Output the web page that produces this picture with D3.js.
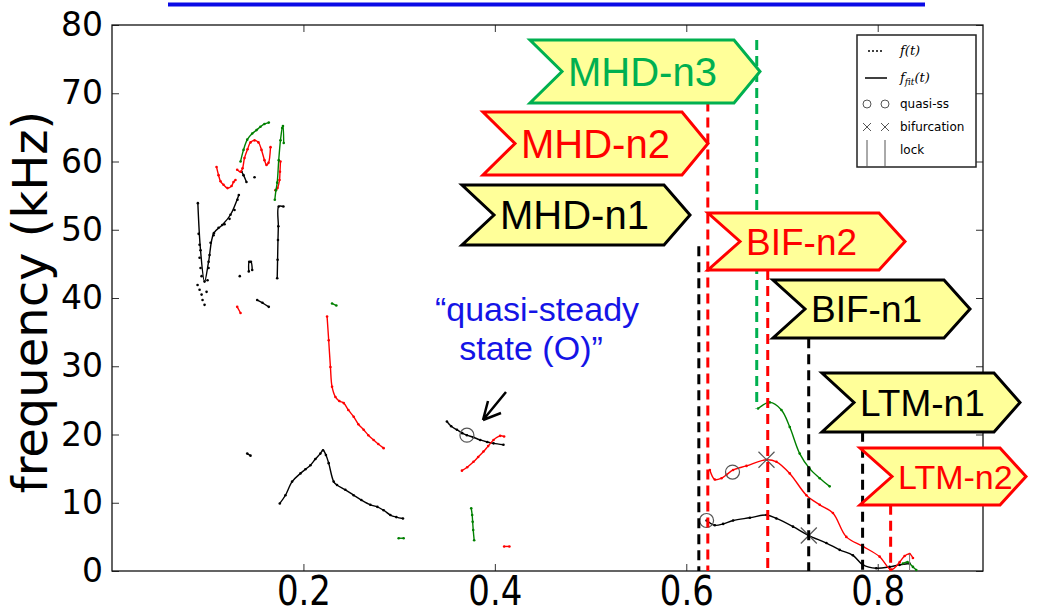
<!DOCTYPE html>
<html>
<head>
<meta charset="utf-8">
<script src="https://cdn.jsdelivr.net/npm/d3@7/dist/d3.min.js"></script>
<style>
  body { margin: 0; background: #fff; }
  svg { display: block; }
</style>
</head>
<body>
<div id="chart"></div>
<script>
// ---- data (t in s, f in kHz) ----
var xTicks = [0.2, 0.4, 0.6, 0.8];
var yTicks = [0, 10, 20, 30, 40, 50, 60, 70, 80];

// black (n=1) pieces
var blackV = [[0.0897,53.9],[0.0925,47.0],[0.0967,42.4],[0.1009,45.3],[0.1064,49.5],[0.1152,50.7],[0.1238,52.2],[0.1325,55.1]];
var blackVDots = [[0.0905,49.4],[0.0915,47.8],[0.0915,45.9],[0.0925,44.4],[0.0936,43.2],[0.0894,41.9],[0.0915,41.2],[0.0936,40.5],[0.0946,39.7],[0.0967,39.0],[0.0988,40.9],[0.0998,42.6],[0.1009,44.4],[0.1019,46.3],[0.1030,48.1],[0.1061,49.2],[0.1113,50.3],[0.1176,50.8],[0.1228,51.6],[0.1280,52.9],[0.1311,54.4]];
var blackTop = [[0.1353,58.5],[0.1374,58.0],[0.1405,57.0]];
var blackBits = [[0.1489,57.7],[0.1335,43.2]];
var blackHook = [[0.1429,43.9],[0.1434,45.3],[0.1452,45.3],[0.1465,44.1]];
var blackLow = [[0.1517,39.7],[0.1572,39.3],[0.1638,38.7]];
var blackVert = [[0.1791,53.4],[0.1742,53.4],[0.1738,50.5],[0.1734,48.5],[0.1730,45.6],[0.1726,42.9]];
var blackSmall = [[0.1413,17.2],[0.1447,16.9]];
var blackMid = [[0.1753,9.9],[0.1812,11.1],[0.1882,13.1],[0.1969,14.3],[0.2021,14.9],[0.2073,15.5],[0.2125,16.4],[0.2177,17.2],[0.2205,17.7],[0.2235,17.0],[0.2264,15.8],[0.2316,13.1],[0.2351,12.6],[0.2438,11.9],[0.2525,11.1],[0.2605,10.4],[0.2699,9.7],[0.2772,9.4],[0.2838,8.9],[0.2908,8.2],[0.2970,7.9],[0.3040,7.7]];
var blackQuasi = [[0.3499,21.9],[0.3544,21.2],[0.3604,20.7],[0.3659,20.2],[0.3708,19.9],[0.3774,19.6],[0.3847,19.2],[0.3920,18.9],[0.3986,18.7],[0.4090,18.5]];
var blackLate = [[0.6212,7.4],[0.6298,6.7],[0.6385,6.9],[0.6489,7.4],[0.6664,7.8],[0.6838,8.2],[0.6942,7.7],[0.7115,6.5],[0.7280,5.2],[0.7464,4.1],[0.7602,3.1],[0.7741,2.3],[0.7846,0.9],[0.7985,0.4],[0.8124,0.6],[0.8229,0.9],[0.8333,1.1]];

// red (n=2) pieces
var redLeft = [[0.1092,59.2],[0.1113,58.0],[0.1134,57.1],[0.1165,56.6],[0.1207,56.1],[0.1249,56.4],[0.1270,57.0],[0.1290,57.3]];
var redHump = [[0.1308,58.8],[0.1343,58.5],[0.1364,59.0],[0.1384,60.5],[0.1416,61.8],[0.1447,62.8],[0.1489,63.1],[0.1530,62.8],[0.1562,61.7],[0.1593,60.2],[0.1614,59.5],[0.1635,59.8],[0.1656,62.1]];
var redRight = [[0.1760,60.0],[0.1755,58.5],[0.1750,57.3],[0.1729,56.1],[0.1708,55.8]];
var redLow = [[0.1308,38.7],[0.1343,37.8]];
var redFall = [[0.2247,37.3],[0.2264,33.8],[0.2282,29.9],[0.2299,27.0],[0.2334,25.5],[0.2375,24.9],[0.2421,24.6],[0.2469,23.6],[0.2525,22.6],[0.2574,21.5],[0.2629,20.7],[0.2678,19.9],[0.2733,19.2],[0.2782,18.6],[0.2838,18.0]];
var redQuasi = [[0.3656,14.7],[0.3711,15.2],[0.3777,16.0],[0.3826,16.7],[0.3881,17.5],[0.3930,18.3],[0.3986,19.2],[0.4055,19.8],[0.4097,19.7]];
var redSmall = [[0.4097,3.6],[0.4152,3.6]];
var redLate = [[0.6246,14.8],[0.6298,13.4],[0.6368,13.6],[0.6420,14.1],[0.6489,14.8],[0.6629,15.4],[0.6838,16.3],[0.6942,16.0],[0.7081,14.3],[0.7255,11.1],[0.7394,9.7],[0.7532,8.5],[0.7672,5.0],[0.7846,3.6],[0.8020,2.1],[0.8142,0.2],[0.8229,1.3],[0.8281,2.2],[0.8333,2.5],[0.8368,1.9]];

// green (n=3) pieces
var greenLeft = [[0.1343,60.0],[0.1374,61.7],[0.1413,63.2],[0.1465,64.1],[0.1510,64.6],[0.1551,65.1],[0.1593,65.5],[0.1638,65.7]];
var greenSpike = [[0.1701,54.4],[0.1713,55.8],[0.1726,56.9],[0.1742,60.2],[0.1760,63.1],[0.1778,64.9],[0.1786,65.2],[0.1794,62.7]];
var greenSmallA = [[0.2299,39.2],[0.2344,38.9]];
var greenSmallB = [[0.2995,4.8],[0.3047,4.8]];
var greenVert = [[0.3753,9.2],[0.3763,8.2],[0.3768,7.2],[0.3774,6.0],[0.3784,4.5]];
var greenLate = [[0.6750,23.8],[0.6872,24.7],[0.6994,23.6],[0.7081,21.1],[0.7185,17.2],[0.7289,15.0],[0.7394,13.6],[0.7498,12.4]];
var greenTail = [[0.8263,1.1],[0.8312,1.3],[0.8368,0.6],[0.8403,0.15]];

// markers
var quasiSS = [[0.3708,19.9],[0.6212,7.4],[0.6483,14.5]];
var bifurcation = [[0.6838,16.3],[0.7280,5.2]];

// event times, and the f range each dashed line covers
var eventNames = ["MHD-n3", "MHD-n2", "MHD-n1", "BIF-n2", "BIF-n1", "LTM-n1", "LTM-n2"];
var eventTimes = [0.6736, 0.6225, 0.6131, 0.6851, 0.7279, 0.7842, 0.8135];
var eventTops = [77.8, 68.8, 47.6, 44.1, 34.1, 20.4, 9.7];
var eventBottoms = [23.8, 0, 0, 0, 0, 0, 0];

// ---- layout ----
var svgWidth = 1046, svgHeight = 615;
var margin = {top: 25, right: 63, bottom: 44, left: 112};
var colors = {k: "#000000", r: "#ff0000", g: "#008000"};
var eventColors = ["#00b050", "#ff0000", "#000000", "#ff0000", "#000000", "#000000", "#ff0000"];
// label boxes: left, tip, top, bottom, font size (px)
var boxes = [
  [530, 760, 40, 103, 40],
  [483, 708, 112, 175, 40],
  [462, 690, 185, 245, 40],
  [708, 905, 213, 270, 37],
  [773, 970, 280, 338, 37],
  [822, 1020, 373, 432, 37],
  [860, 1026, 448, 505, 34]
];

var svg = d3.select("#chart").append("svg")
  .attr("width", svgWidth)
  .attr("height", svgHeight);

var x = d3.scaleLinear().domain([0, 0.91]).range([margin.left, svgWidth - margin.right]);
var y = d3.scaleLinear().domain([0, 80]).range([svgHeight - margin.bottom, margin.top]);

// blue bar across the top
svg.append("line")
  .attr("x1", 168).attr("x2", 925).attr("y1", 4.5).attr("y2", 4.5)
  .attr("stroke", "#0a0ae6").attr("stroke-width", 4);

// axes, ticks pointing inward like matplotlib classic
var tickCol = "#333";
var gL = svg.append("g").attr("transform", `translate(${margin.left},0)`)
  .call(d3.axisLeft(y).tickValues(yTicks).tickSize(-7).tickPadding(9));
var gR = svg.append("g").attr("transform", `translate(${svgWidth - margin.right},0)`)
  .call(d3.axisRight(y).tickValues(yTicks).tickSize(-7).tickFormat(""));
var gB = svg.append("g").attr("transform", `translate(0,${svgHeight - margin.bottom})`)
  .call(d3.axisBottom(x).tickValues(xTicks).tickSize(-7).tickFormat(d3.format(".1f")));
var gT = svg.append("g").attr("transform", `translate(0,${margin.top})`)
  .call(d3.axisTop(x).tickValues(xTicks).tickSize(-7).tickFormat(""));
[gL, gR, gB, gT].forEach(function(g) {
  g.select(".domain").remove();
  g.selectAll(".tick line").attr("stroke", tickCol);
});
gL.selectAll("text")
  .attr("font-family", "DejaVu Sans").attr("font-size", 33).attr("fill", "#000");
// the x labels in the picture are drawn tall and narrow
gB.selectAll("text")
  .attr("font-family", "DejaVu Sans").attr("font-size", 34).attr("fill", "#000")
  .attr("dy", 0).attr("y", 28.3)
  .attr("transform", "scale(1,1.2)");

svg.append("rect")
  .attr("x", margin.left).attr("y", margin.top)
  .attr("width", svgWidth - margin.left - margin.right)
  .attr("height", svgHeight - margin.top - margin.bottom)
  .attr("fill", "none").attr("stroke", "#111").attr("stroke-width", 1.3);

svg.append("text")
  .attr("transform", "translate(47,302) rotate(-90)")
  .attr("text-anchor", "middle")
  .attr("font-family", "DejaVu Sans").attr("font-size", 48)
  .text("frequency (kHz)");

// data pieces: fitted line plus the sampled points
var line = d3.line().x(d => x(d[0])).y(d => y(d[1])).curve(d3.curveCatmullRom);
var pieces = [
  [blackV, "k"], [blackTop, "k"], [blackHook, "k"], [blackLow, "k"], [blackVert, "k"],
  [blackSmall, "k"], [blackMid, "k"], [blackQuasi, "k"], [blackLate, "k"],
  [redLeft, "r"], [redHump, "r"], [redRight, "r"], [redLow, "r"], [redFall, "r"],
  [redQuasi, "r"], [redSmall, "r"], [redLate, "r"],
  [greenLeft, "g"], [greenSpike, "g"], [greenSmallA, "g"], [greenSmallB, "g"],
  [greenVert, "g"], [greenLate, "g"], [greenTail, "g"]
];
var dataG = svg.append("g");
pieces.forEach(function(p) {
  dataG.append("path").datum(p[0])
    .attr("d", line)
    .attr("fill", "none")
    .attr("stroke", colors[p[1]])
    .attr("stroke-width", 1.4);
  dataG.selectAll(null).data(p[0]).enter().append("circle")
    .attr("cx", d => x(d[0])).attr("cy", d => y(d[1]))
    .attr("r", 1.3).attr("fill", colors[p[1]]);
});
[[blackVDots, "k"], [blackBits, "k"]].forEach(function(p) {
  dataG.selectAll(null).data(p[0]).enter().append("circle")
    .attr("cx", d => x(d[0])).attr("cy", d => y(d[1]))
    .attr("r", 1.3).attr("fill", colors[p[1]]);
});

// lock line at the end
dataG.append("line")
  .attr("x1", x(0.8333)).attr("x2", x(0.8333))
  .attr("y1", y(2.5)).attr("y2", y(0))
  .attr("stroke", "#777").attr("stroke-width", 1);

// markers
dataG.selectAll(".qss").data(quasiSS).enter().append("circle")
  .attr("cx", d => x(d[0])).attr("cy", d => y(d[1]))
  .attr("r", 7).attr("fill", "none").attr("stroke", "#555").attr("stroke-width", 1.2);
dataG.selectAll(".bif").data(bifurcation).enter().append("path")
  .attr("transform", d => `translate(${x(d[0])},${y(d[1])})`)
  .attr("d", "M-8,-8L8,8M-8,8L8,-8")
  .attr("stroke", "#555").attr("stroke-width", 1.2);

// dashed event lines
var evG = svg.append("g");
eventTimes.forEach(function(t, i) {
  evG.append("line")
    .attr("x1", x(t)).attr("x2", x(t))
    .attr("y1", y(eventTops[i])).attr("y2", y(eventBottoms[i]))
    .attr("stroke", eventColors[i]).attr("stroke-width", 3)
    .attr("stroke-dasharray", "10,6");
});

// label boxes
var boxG = svg.append("g");
boxes.forEach(function(b, i) {
  var l = b[0], r = b[1], t = b[2], bt = b[3], m = (t + bt) / 2;
  var notch = 32, tip = 26;
  boxG.append("path")
    .attr("d", `M${l},${t}L${r - tip},${t}L${r},${m}L${r - tip},${bt}L${l},${bt}L${l + notch},${m}Z`)
    .attr("fill", "#ffff99")
    .attr("stroke", eventColors[i]).attr("stroke-width", 3)
    .attr("stroke-linejoin", "miter");
  boxG.append("text")
    .attr("x", l + notch + 6).attr("y", m + b[4] * 0.36)
    .attr("font-family", "Liberation Sans, Arial, sans-serif").attr("font-size", b[4])
    .attr("fill", eventColors[i])
    .text(eventNames[i]);
});

// quasi-steady annotation
var ann = svg.append("g").attr("font-family", "Liberation Sans, Arial, sans-serif")
  .attr("font-size", 34).attr("fill", "#1414e6").attr("text-anchor", "middle");
ann.append("text").attr("x", 537).attr("y", 321).text("\u201Cquasi-steady");
ann.append("text").attr("x", 531).attr("y", 360).text("state (O)\u201D");
svg.append("path")
  .attr("d", "M506,392L483,420M483,420L501,413M483,420L488,401")
  .attr("fill", "none").attr("stroke", "#000").attr("stroke-width", 2.5);

// legend
var lg = svg.append("g");
lg.append("rect").attr("x", 857).attr("y", 35).attr("width", 119).attr("height", 132)
  .attr("fill", "#fff").attr("stroke", "#222").attr("stroke-width", 1.5);
var lx1 = 867, lx2 = 885, tx = 900;
[869, 873, 877, 881].forEach(function(px) {
  lg.append("circle").attr("cx", px).attr("cy", 51).attr("r", 1).attr("fill", "#000");
});
lg.append("line").attr("x1", 865).attr("x2", 887).attr("y1", 78).attr("y2", 78)
  .attr("stroke", "#000").attr("stroke-width", 1.5);
[lx1, lx2].forEach(function(px) {
  lg.append("circle").attr("cx", px).attr("cy", 104).attr("r", 4)
    .attr("fill", "none").attr("stroke", "#555").attr("stroke-width", 1);
  lg.append("path").attr("transform", `translate(${px},127)`)
    .attr("d", "M-4,-4L4,4M-4,4L4,-4").attr("stroke", "#555").attr("stroke-width", 1);
  lg.append("line").attr("x1", px).attr("x2", px).attr("y1", 140).attr("y2", 167)
    .attr("stroke", "#555").attr("stroke-width", 1);
});
var math = lg.append("g").attr("font-family", "DejaVu Serif").attr("font-style", "italic").attr("font-size", 13);
math.append("text").attr("x", tx).attr("y", 55).text("f(t)");
var ff = math.append("text").attr("x", tx).attr("y", 82);
ff.append("tspan").text("f");
ff.append("tspan").attr("font-size", 9).attr("dy", 3).text("fit");
ff.append("tspan").attr("dy", -3).text("(t)");
var lt = lg.append("g").attr("font-family", "DejaVu Sans").attr("font-size", 12);
lt.append("text").attr("x", tx).attr("y", 108).text("quasi-ss");
lt.append("text").attr("x", tx).attr("y", 131).text("bifurcation");
lt.append("text").attr("x", tx).attr("y", 154).text("lock");
</script>
</body>
</html>
